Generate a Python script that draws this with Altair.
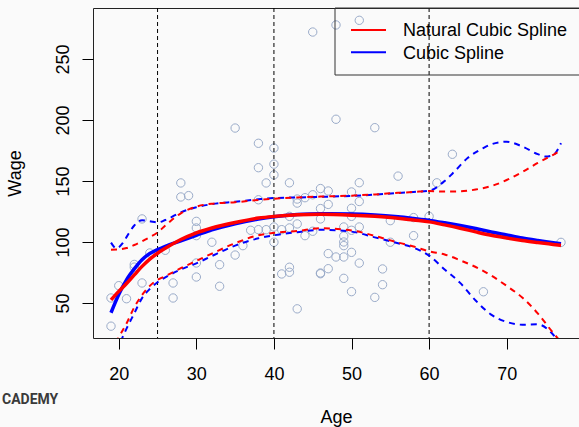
import altair as alt
import pandas as pd

# ---- observed data (Age, Wage) ----
age = [19, 19, 20, 21, 22, 22, 23, 23, 24, 26, 27, 27, 28, 28, 29,
       30, 30, 30, 30, 30, 32, 33, 33, 35, 35, 36, 37,
       38, 38, 38, 38, 39, 39, 40, 40, 40, 40, 40, 41, 41,
       42, 42, 42, 42, 42, 43, 43, 43, 43, 44, 44, 45, 45, 45,
       46, 46, 46, 46, 46, 47, 47, 47, 47, 48, 48, 48,
       49, 49, 49, 49, 49, 49, 50, 50, 50, 50, 50, 50,
       51, 51, 51, 51, 51, 53, 53, 54, 54, 55, 55, 56, 58, 58,
       60, 61, 63, 67, 77]
wage = [54.1, 31.0, 64.2, 53.5, 81.6, 79.4, 118.9, 66.4, 91.0, 93.2, 66.4, 54.1, 148.4, 136.9, 138.0,
        116.9, 111.5, 105.2, 82.8, 71.3, 99.8, 81.4, 63.7, 193.4, 89.3, 97.0, 109.6,
        180.9, 160.9, 134.6, 110.1, 148.4, 110.1, 177.0, 163.8, 155.0, 112.3, 99.8, 110.1, 73.8,
        148.5, 121.0, 111.5, 79.3, 75.2, 135.2, 131.9, 114.8, 45.2, 136.3, 105.2, 272.1, 138.7, 108.8,
        143.8, 127.4, 118.9, 74.6, 74.0, 141.8, 130.8, 90.5, 78.1, 277.9, 200.6, 87.7,
        112.3, 104.8, 100.0, 97.0, 87.7, 70.2, 141.0, 127.6, 121.0, 109.6, 91.5, 59.3,
        281.7, 148.6, 133.2, 112.3, 82.7, 193.7, 54.6, 77.9, 65.0, 117.5, 99.8, 154.0, 120.0, 105.2,
        121.0, 148.5, 171.9, 59.2, 99.7]

knots = [25, 40, 60]

# ---- fitted curves ----
curve_age = [19, 20, 21, 22, 23, 24, 25, 26, 28, 30, 32, 35, 38, 40, 43, 46, 50, 53, 56, 58,
             60, 62, 64, 66, 68, 70, 72, 74, 76, 77]
ns_fit = [52.5, 59.5, 66.0, 73.0, 80.0, 86.0, 90.8, 94.8, 102.0, 107.5, 111.5, 116.0, 119.6, 121.0,
          122.3, 122.7, 122.0, 121.0, 119.5, 118.0, 116.5, 114.0, 111.3, 108.3, 105.5, 103.3,
          101.3, 99.6, 98.0, 97.2]
ns_upper = [93.7, 94.0, 95.0, 97.5, 100.6, 104.0, 107.8, 113.5, 123.5, 129.0, 131.4, 132.6, 134.5,
            135.5, 136.5, 137.2, 138.0, 139.0, 140.3, 141.0, 141.8, 141.3, 141.5, 143.0, 145.8,
            150.8, 157.3, 164.8, 171.5, 175.0]
ns_lower = [9.0, 21.8, 33.2, 46.5, 56.5, 64.0, 68.9, 72.0, 78.5, 84.5, 90.5, 99.0, 105.5, 107.5,
            109.0, 111.3, 109.5, 105.0, 99.5, 96.3, 92.4, 89.8, 85.0, 79.5, 72.5, 64.0, 54.5,
            41.5, 25.4, 18.0]
bs_fit = [42.0, 57.0, 69.0, 78.0, 85.5, 90.5, 93.8, 96.5, 101.0, 105.5, 110.0, 115.0, 118.8, 120.7,
          122.5, 123.2, 123.0, 122.2, 120.6, 119.2, 117.7, 115.7, 113.5, 111.0, 108.2, 105.7,
          103.2, 101.2, 99.4, 98.6]
bs_lower = [2.0, 15.0, 29.0, 41.5, 54.0, 61.5, 67.0, 71.0, 77.5, 82.5, 88.5, 97.0, 103.0, 105.5,
            108.0, 110.0, 108.5, 103.8, 99.0, 95.3, 88.8, 77.5, 66.5, 52.0, 40.5, 34.5, 32.2,
            32.5, 24.0, 16.0]
bs_upper_age = [19, 19.7, 20.5, 21, 22, 23, 24, 25, 26, 28, 30, 32, 35, 38, 40, 43, 46, 50, 53, 56,
                58, 60, 62, 63, 65, 67, 68, 70, 72, 74, 75, 76, 77]
bs_upper = [99.5, 94.8, 99.0, 104.0, 113.5, 117.8, 117.0, 116.0, 118.0, 124.3, 128.5, 131.0, 133.0,
            135.0, 136.0, 136.5, 137.0, 137.8, 138.8, 140.2, 141.0, 142.0, 150.0, 156.0, 169.0,
            177.0, 180.0, 182.2, 178.3, 172.0, 170.0, 171.3, 181.0]

legend_labels = ["Natural Cubic Spline", "Cubic Spline"]

FONT = "Liberation Sans"
xs = alt.Scale(domain=[16.68, 79.32], nice=False, zero=False)
ys = alt.Scale(domain=[21.3, 291.8], nice=False, zero=False)

x_axis = alt.Axis(values=[20, 30, 40, 50, 60, 70], title="Age", grid=False, domain=False,
                  tickSize=11, tickColor="black", tickWidth=1, labelFontSize=18, labelFont=FONT,
                  labelColor="black", labelPadding=16, labelFlush=False, titleFont=FONT,
                  titleFontSize=18, titleFontWeight="normal", titleColor="black",
                  titleX=243, titleY=84, titleBaseline="alphabetic", titleAlign="center")
y_axis = alt.Axis(values=[50, 100, 150, 200, 250], title="Wage", grid=False, domain=False,
                  tickSize=11, tickColor="black", tickWidth=1, labelFontSize=18, labelFont=FONT,
                  labelColor="black", labelPadding=10, labelAngle=270, labelAlign="center",
                  labelBaseline="bottom", labelFlush=False, titleFont=FONT, titleFontSize=18,
                  titleFontWeight="normal", titleColor="black", titleAngle=270, titleX=-73,
                  titleY=165, titleBaseline="alphabetic", titleAlign="center")

pts = pd.DataFrame({"Age": age, "Wage": wage})
points = alt.Chart(pts).mark_point(shape="circle", filled=False, size=70, strokeWidth=1,
                                   color="#9aabc9", opacity=1, clip=True).encode(
    x=alt.X("Age:Q", scale=xs, axis=x_axis),
    y=alt.Y("Wage:Q", scale=ys, axis=y_axis),
)

knot_lines = alt.Chart(pd.DataFrame({"Age": knots})).mark_rule(
    color="black", strokeWidth=1, strokeDash=[4, 3], clip=True).encode(
    x=alt.X("Age:Q", scale=xs))


def curve(ages, vals, color, dashed):
    df = pd.DataFrame({"Age": ages, "Wage": vals})
    if dashed:
        m = alt.Chart(df).mark_line(color=color, strokeWidth=2, strokeDash=[6, 5],
                                    interpolate="monotone", clip=True)
    else:
        m = alt.Chart(df).mark_line(color=color, strokeWidth=3.5, interpolate="monotone", clip=True)
    return m.encode(x=alt.X("Age:Q", scale=xs), y=alt.Y("Wage:Q", scale=ys))


one = pd.DataFrame({"k": [0]})
legend_box = alt.Chart(one).mark_rect(fill=None, stroke="#333333", strokeWidth=1).encode(
    x=alt.value(242), x2=alt.value(500), y=alt.value(0), y2=alt.value(67))
leg_red = alt.Chart(one).mark_rule(color="red", strokeWidth=2).encode(
    x=alt.value(258), x2=alt.value(293), y=alt.value(22))
leg_blue = alt.Chart(one).mark_rule(color="blue", strokeWidth=2).encode(
    x=alt.value(258), x2=alt.value(293), y=alt.value(44.3))
leg_t1 = alt.Chart(one).mark_text(text=legend_labels[0], font=FONT, fontSize=18, align="left",
                                  baseline="middle", color="black").encode(
    x=alt.value(310), y=alt.value(23.3))
leg_t2 = alt.Chart(one).mark_text(text=legend_labels[1], font=FONT, fontSize=18, align="left",
                                  baseline="middle", color="black").encode(
    x=alt.value(310), y=alt.value(45.8))
watermark = alt.Chart(one).mark_text(text="CADEMY", font="Roboto", fontSize=14, fontWeight="bold",
                                     align="left", baseline="middle", color="#3a3a3a").encode(
    x=alt.value(-91), y=alt.value(392))

chart = alt.layer(
    points, knot_lines,
    curve(curve_age, bs_fit, "blue", False),
    curve(bs_upper_age, bs_upper, "blue", True),
    curve(curve_age, bs_lower, "blue", True),
    curve(curve_age, ns_fit, "red", False),
    curve(curve_age, ns_upper, "red", True),
    curve(curve_age, ns_lower, "red", True),
    legend_box, leg_red, leg_blue, leg_t1, leg_t2, watermark,
).properties(
    width=486, height=330,
    autosize=alt.AutoSizeParams(type="none"),
    padding={"left": 93, "top": 8, "right": 0, "bottom": 89},
    background="#fafafa",
).configure_view(stroke="#222222", strokeWidth=1)

chart.save("out.html", embed_options={"renderer": "svg", "actions": False})
